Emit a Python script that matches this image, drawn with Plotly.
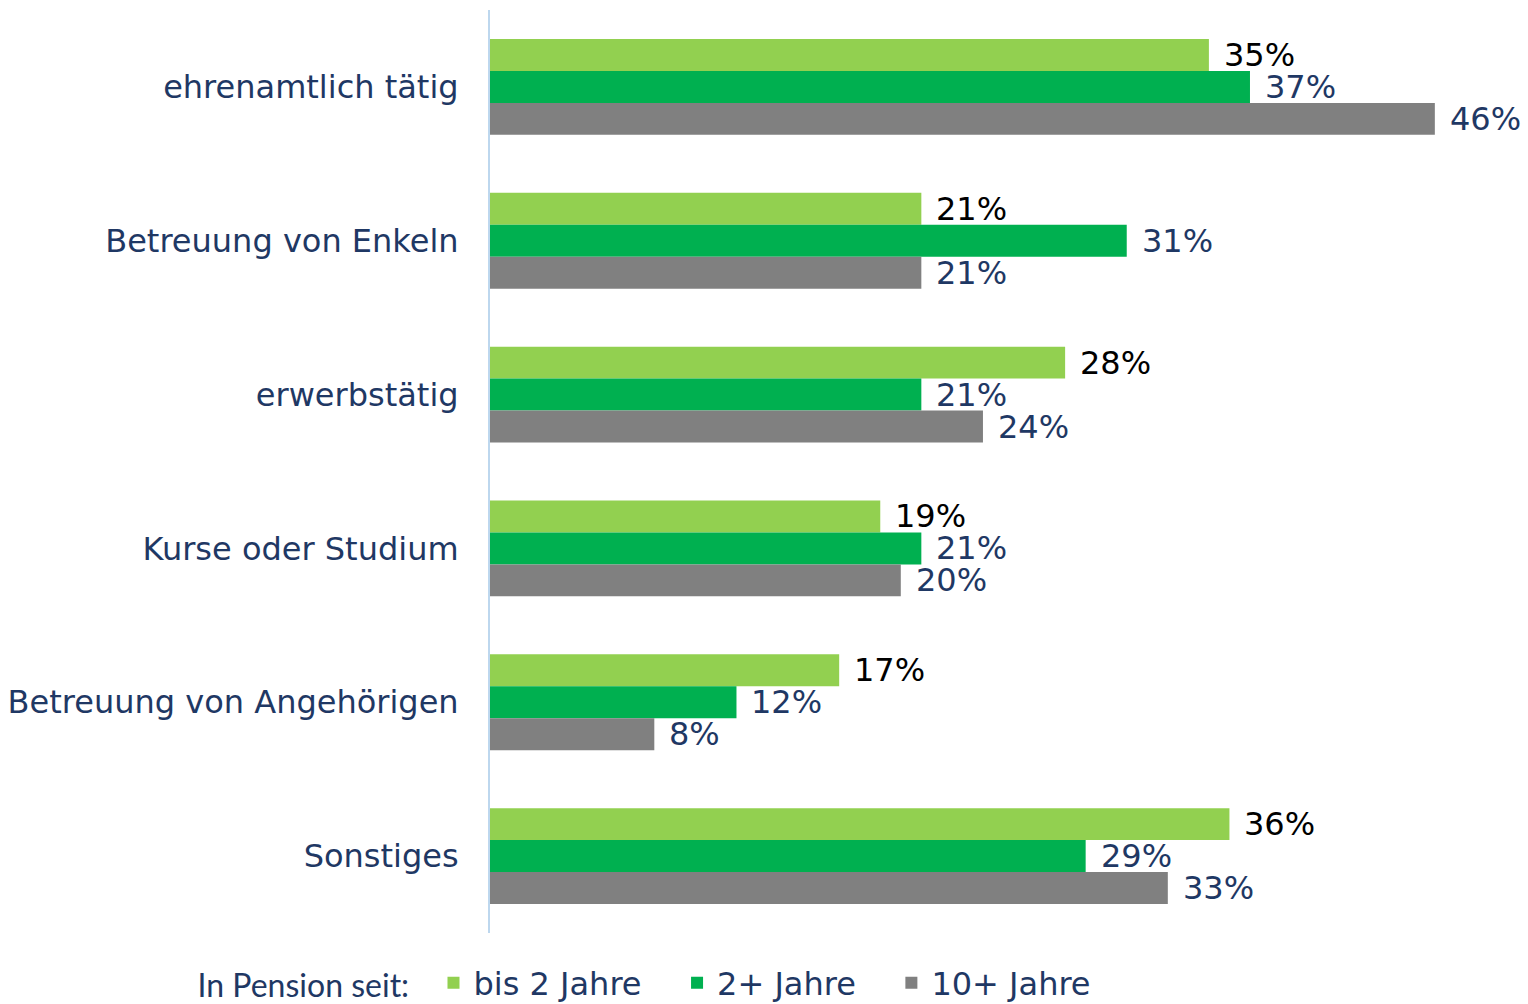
import plotly.graph_objects as go

# Activities of retirees, by time since retirement (share in %)
categories = [
    "ehrenamtlich tätig",
    "Betreuung von Enkeln",
    "erwerbstätig",
    "Kurse oder Studium",
    "Betreuung von Angehörigen",
    "Sonstiges",
]
series_names = ["bis 2 Jahre", "2+ Jahre", "10+ Jahre"]
bis_2_jahre = [35, 21, 28, 19, 17, 36]
plus_2_jahre = [37, 31, 21, 21, 12, 29]
plus_10_jahre = [46, 21, 24, 20, 8, 33]

series_values = [bis_2_jahre, plus_2_jahre, plus_10_jahre]
colors = ["#92D050", "#00B050", "#808080"]
label_colors = ["#000000", "#1F3864", "#1F3864"]
navy = "#1F3864"
font_main = "Verdana, DejaVu Sans, sans-serif"
font_title = "Lato, Open Sans, sans-serif"

bargap = 0.377
bar_w = (1 - bargap) / len(series_names)
NBSP = "\u00a0"

fig = go.Figure()
for i, (name, vals, col) in enumerate(zip(series_names, series_values, colors)):
    pad = NBSP * 3 if i < len(series_names) - 1 else ""
    fig.add_trace(go.Bar(
        y=categories, x=vals, name=name + pad, orientation="h",
        marker=dict(color=col, line=dict(width=0)),
        hovertemplate=name + ": %{x}%<extra>%{y}</extra>",
    ))

annotations = []
for si, (vals, lc) in enumerate(zip(series_values, label_colors)):
    offset = (si - 1) * bar_w
    for ci, v in enumerate(vals):
        annotations.append(dict(
            x=v, y=ci + offset, xref="x", yref="y",
            text=f"{v}%", showarrow=False,
            xanchor="left", yanchor="middle", xshift=13,
            font=dict(family=font_main, size=32, color=lc),
        ))

fig.update_layout(
    width=1528, height=1004,
    margin=dict(l=490, r=11, t=10, b=71, autoexpand=False),
    paper_bgcolor="white", plot_bgcolor="white",
    barmode="group", bargap=bargap, bargroupgap=0,
    showlegend=True,
    legend=dict(
        orientation="h",
        xref="container", yref="container",
        x=0.128, xanchor="left", y=0.021, yanchor="middle",
        font=dict(family=font_main, size=32, color=navy),
        title=dict(text="In Pension seit:" + NBSP + NBSP, side="left",
                   font=dict(family=font_title, size=32, color=navy)),
        itemwidth=30, traceorder="normal", itemclick=False,
        bgcolor="rgba(0,0,0,0)",
    ),
    annotations=annotations,
    xaxis=dict(range=[0, 50], visible=False, fixedrange=True),
    yaxis=dict(
        autorange="reversed", type="category",
        showline=True, linecolor="#BDD7EE", linewidth=2,
        showgrid=False, zeroline=False, ticks="",
        ticklabelstandoff=23,
        tickfont=dict(family=font_main, size=32, color=navy),
        fixedrange=True,
    ),
)

fig.write_html("out.html")
